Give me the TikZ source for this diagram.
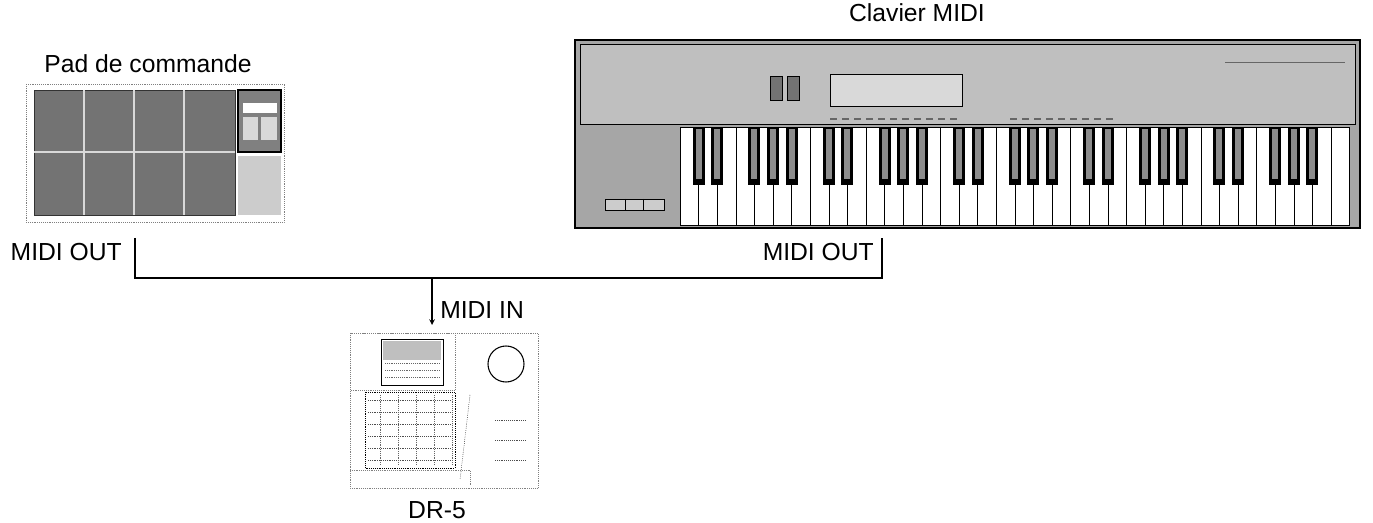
\documentclass[tikz,border=0pt]{standalone}
\usepackage{fontspec}
\setmainfont{Liberation Sans}
\begin{document}
\begin{tikzpicture}[x=0.75pt,y=-0.75pt,
  lbl/.style={font=\fontsize{18.5}{20}\selectfont,inner sep=0pt},
  wire/.style={line width=0.9pt},
  dots/.style={densely dotted,gray},
  padfill/.style={fill=black!55},
  kb/.style={fill=black!30}]
\useasboundingbox (0,0) rectangle (1373,523);
% ---------- Pad ----------
\node[lbl] (padlbl) at (148,64) {Pad de commande};
\draw[dots] (26,84) rectangle (284,222);
\fill[padfill] (34,90) rectangle (235,215);
\draw[black!80] (34,90) rectangle (235,215);
\foreach \x in {84,134,184} \draw[white!85!black,line width=1pt] (\x,90) -- (\x,215);
\draw[white!85!black,line width=1pt] (34,152) -- (235,152);
\draw[line width=1.2pt,fill=black!50] (238,90) rectangle (281,152);
\fill[white] (243,103) rectangle (277,113);
\fill[black!15] (243,117) rectangle (258,140);
\fill[black!15] (261,117) rectangle (277,140);
\fill[black!20] (238,156) rectangle (281,215);
\coordinate (padout) at (135,238);
\node[lbl,anchor=east] (padoutlbl) at (122,252) {MIDI OUT};
% ---------- Keyboard ----------
\node[lbl] (kblbl) at (917,13) {Clavier MIDI};
\draw[line width=1pt,fill=black!35] (575,40) rectangle (1360,228);
\draw[fill=black!25] (580,44) rectangle (1355,124);
\draw[fill=white!85!black] (830,74) rectangle (962,106);
\draw[fill=black!55] (770,76) rectangle (782,100);
\draw[fill=black!55] (787,76) rectangle (799,100);
\foreach \x in {830,842,...,950} \draw[black!60,line width=1.5pt] (\x,119) -- (\x+7,119);
\foreach \x in {1010,1022,...,1110} \draw[black!60,line width=1.5pt] (\x,119) -- (\x+7,119);
\draw[black!60] (1225,62) -- (1345,62);
\draw[fill=black!20] (605,199) rectangle (664,210);
\draw (625,199) -- (625,210) (643,199) -- (643,210);
% keys
\foreach \i in {0,...,35} {
  \draw[fill=white] ({680+\i*18.6},127) rectangle ({680+(\i+1)*18.6},225);
}
\foreach \o in {0,...,4} {
  \foreach \b in {1,2,4,5,6} {
    \pgfmathsetmacro\bx{680+(\o*7+\b)*18.6}
    \fill[black] (\bx-6,127) rectangle (\bx+6,185);
    \fill[black!45] (\bx-3,129) rectangle (\bx+3,179);
  }
}
\coordinate (kbout) at (882,238);
\node[lbl,anchor=east] (kboutlbl) at (874,252) {MIDI OUT};
% ---------- DR-5 ----------
\coordinate (drin) at (432,325);
\node[lbl,anchor=west] (drinlbl) at (440,310) {MIDI IN};
\draw[dots] (350,333) rectangle (538,488);
\draw[dots] (350,333) rectangle (455,390);
\draw (381,339) rectangle (443,385);
\fill[black!25] (383,341) rectangle (441,360);
\foreach \y in {363,370,377} \draw[black!60,densely dotted] (385,\y) -- (440,\y);
\draw[line width=0.8pt] (506,364) circle (18);
\draw[densely dotted] (365,392) rectangle (455,468);
\foreach \y in {400,412,...,460} \draw[black!70,densely dotted] (368,\y) -- (452,\y);
\foreach \x in {380,398,...,452} \draw[black!60,densely dotted] (\x,395) -- (\x,465);
\draw[densely dotted] (470,395) -- (460,480);
\foreach \y in {420,440,460} \draw[black!70,densely dotted] (495,\y) -- (525,\y);
\draw[dots] (350,470) -- (470,470) -- (470,485);
\node[lbl] (drlbl) at (437,510) {DR-5};
% ---------- wires ----------
\coordinate (j1) at (135,278);
\coordinate (j2) at (882,278);
\coordinate (j3) at (432,278);
\draw[wire] (padout) -- (j1) -- (j2) -- (kbout);
\draw[wire,-{stealth}] (j3) -- (drin);
\end{tikzpicture}
\end{document}
